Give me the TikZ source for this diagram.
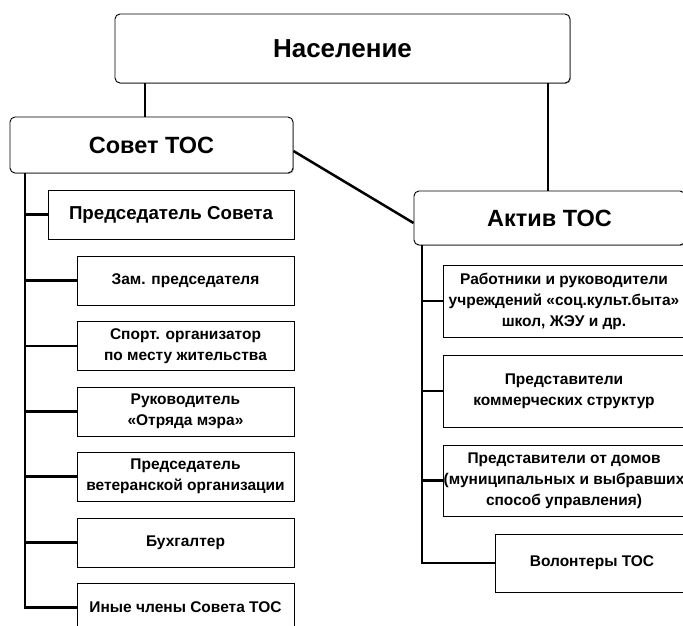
\documentclass[tikz,border=0pt]{standalone}
\usepackage{fontspec}
\setmainfont{Liberation Sans}
\usetikzlibrary{shadows}
\begin{document}
\begin{tikzpicture}[x=1pt,y=-1pt,
  base/.style={draw, line width=0.9pt, fill=white, align=center, inner sep=0pt,
    drop shadow={shadow xshift=0.9pt, shadow yshift=-0.9pt, fill=gray!70, opacity=1}},
  topbox/.style={base, rounded corners=5pt, font=\bfseries\fontsize{26}{30}\selectfont},
  midbox/.style={base, rounded corners=5pt, font=\bfseries\fontsize{23.5}{28}\selectfont},
  bigbox/.style={base, font=\bfseries\fontsize{18.7}{22}\selectfont},
  smallbox/.style={base, font=\bfseries\fontsize{15.5}{21}\selectfont},
  conn/.style={line width=2.5pt}]
\useasboundingbox (0,0) rectangle (683,626);
% top
\node[topbox, minimum width=455pt, minimum height=69pt] (nas) at (342.5,48.5) {Население};
\node[midbox, minimum width=283pt, minimum height=56pt] (sovet) at (151.5,145) {Совет ТОС};
\node[midbox, minimum width=271pt, minimum height=54pt] (aktiv) at (549.5,218) {Актив ТОС};
% left column
\node[bigbox, minimum width=246pt, minimum height=49pt] (pred) at (171,214.5) {Председатель Совета};
\node[smallbox, minimum width=217pt, minimum height=49pt] (zam) at (185.5,280.5) {Зам. председателя};
\node[smallbox, minimum width=217pt, minimum height=49pt] (sport) at (185.5,346) {Спорт. организатор\\по месту жительства};
\node[smallbox, minimum width=217pt, minimum height=49pt] (ruk) at (185.5,411.5) {Руководитель\\«Отряда мэра»};
\node[smallbox, minimum width=217pt, minimum height=49pt] (vet) at (185.5,476.5) {Председатель\\ветеранской организации};
\node[smallbox, minimum width=217pt, minimum height=49pt] (buh) at (185.5,542.5) {Бухгалтер};
\node[smallbox, minimum width=217pt, minimum height=49pt] (ino) at (185.5,607.5) {Иные члены Совета ТОС};
% right column
\node[smallbox, minimum width=242pt, minimum height=72pt] (rab) at (564,301) {Работники и руководители\\учреждений «соц.культ.быта»\\школ, ЖЭУ и др.};
\node[smallbox, minimum width=242pt, minimum height=72pt] (kom) at (564,391) {Представители\\коммерческих структур};
\node[smallbox, minimum width=242pt, minimum height=71pt] (dom) at (564,480.5) {Представители от домов\\(муниципальных и выбравших\\способ управления)};
\node[smallbox, minimum width=194pt, minimum height=58pt] (vol) at (592,563) {Волонтеры ТОС};
% connectors
\coordinate (c1) at (145,0);
\coordinate (c2) at (548,0);
\coordinate (lv) at (25,0);
\coordinate (rv) at (422,0);
\draw[conn] (nas.south -| c1) -- (sovet.north -| c1);
\draw[conn] (nas.south -| c2) -- (aktiv.north -| c2);
\draw[conn] ([yshift=-6pt]sovet.east) -- ([yshift=-5pt]aktiv.west);
\draw[conn] (sovet.south -| lv) -- (ino.west -| lv) -- (ino.west);
\foreach \n in {pred,zam,sport,ruk,vet,buh} \draw[conn] (\n.west -| lv) -- (\n.west);
\draw[conn] (aktiv.south -| rv) -- (vol.west -| rv) -- (vol.west);
\foreach \n in {rab,kom,dom} \draw[conn] (\n.west -| rv) -- (\n.west);
\end{tikzpicture}
\end{document}
